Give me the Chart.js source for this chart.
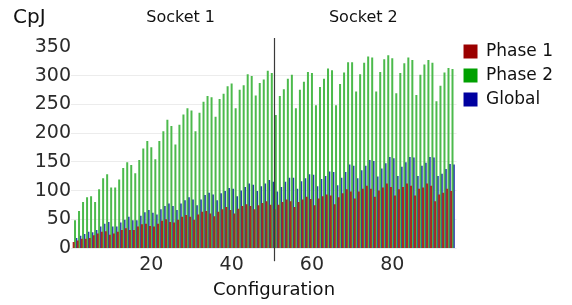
<!DOCTYPE html>
<html>
<head>
<meta charset="utf-8">
<script src="https://cdn.jsdelivr.net/npm/chart.js@4/dist/chart.umd.min.js"></script>
<style>
  html, body { margin: 0; padding: 0; background: #fff; }
</style>
</head>
<body>
<canvas id="chart" width="572" height="305"></canvas>
<script>
// configuration numbers 1..95 (x positions of the bar groups)
const configs = []
for (let c = 1; c <= 95; c++) configs.push(c)

const phase1 = [
  10, 13, 16, 16, 17, 22, 25, 28, 29, 23, 25, 28, 31, 34, 31, 31,
  37, 41, 42, 38, 37, 42, 47, 50, 45, 44, 49, 54, 57, 54, 49, 58,
  63, 64, 60, 55, 63, 67, 71, 66, 60, 68, 73, 76, 73, 67, 74, 78,
  81, 75, 67, 75, 80, 84, 81, 71, 80, 84, 89, 85, 74, 86, 90, 93,
  91, 76, 88, 95, 102, 98, 86, 98, 103, 108, 103, 89, 100, 105, 112, 106,
  91, 102, 106, 112, 108, 91, 103, 105, 112, 108, 81, 93, 96, 103, 99
]

const phase2 = [
  48, 64, 80, 88, 90, 80, 102, 121, 128, 105, 105, 119, 139, 149, 144, 130,
  153, 173, 186, 175, 154, 186, 203, 223, 212, 180, 214, 232, 243, 239, 203, 235,
  254, 264, 262, 228, 259, 268, 281, 286, 243, 275, 283, 302, 299, 265, 287, 293,
  308, 304, 231, 264, 276, 294, 301, 243, 275, 289, 306, 304, 248, 280, 294, 312,
  309, 248, 285, 305, 323, 323, 272, 302, 322, 333, 331, 272, 306, 328, 335, 330,
  269, 304, 321, 331, 327, 266, 301, 319, 327, 322, 255, 282, 305, 313, 311
]

const global = [
  17, 21, 24, 28, 27, 31, 37, 42, 45, 37, 37, 44, 49, 54, 48, 48,
  56, 62, 66, 61, 58, 67, 73, 77, 73, 66, 77, 83, 88, 84, 74, 84,
  92, 96, 93, 83, 95, 99, 104, 103, 90, 100, 106, 112, 110, 99, 107, 112,
  118, 115, 98, 106, 115, 122, 122, 103, 116, 121, 128, 127, 107, 120, 125, 133,
  132, 109, 122, 132, 145, 143, 121, 135, 143, 153, 151, 124, 138, 147, 158, 156,
  125, 141, 149, 158, 157, 125, 143, 148, 158, 157, 125, 129, 137, 146, 145
]

const seriesNames = ["Phase 1", "Phase 2", "Global"]
const xTicks = [20, 40, 60, 80]
const yTicks = [0, 50, 100, 150, 200, 250, 300, 350]
const socketNames = ["Socket 1", "Socket 2"]
const socketSplit = 50.5

const FONT = '"DejaVu Sans", sans-serif'

// divider line, socket names, axis captions
const extras = {
  id: 'extras',
  afterDatasetsDraw(chart) {
    const { ctx, chartArea } = chart
    const x = chart.scales.x
    ctx.save()
    const lx = Math.round(x.getPixelForValue(socketSplit)) + 0.5
    ctx.strokeStyle = '#3a3a3a'
    ctx.lineWidth = 1.2
    ctx.beginPath()
    ctx.moveTo(lx, chartArea.top - 9)
    ctx.lineTo(lx, chartArea.bottom + 13)
    ctx.stroke()
    ctx.restore()
  },
  afterDraw(chart) {
    const { ctx } = chart
    const x = chart.scales.x
    ctx.save()
    ctx.fillStyle = '#111'
    ctx.textBaseline = 'middle'
    ctx.textAlign = 'center'
    ctx.font = '16px ' + FONT
    const centers = [27.3, 72.8]
    socketNames.forEach((s, i) => ctx.fillText(s, x.getPixelForValue(centers[i]), 18))
    ctx.font = '18px ' + FONT
    ctx.fillText('Configuration', 274, 290)
    ctx.textAlign = 'left'
    ctx.font = '20px ' + FONT
    ctx.fillText('CpJ', 13, 18)
    ctx.restore()
  }
}

// thin bars look lighter in the original, the legend keeps the full colours
const barColors = ['#a82a22', '#4cba4c', '#2b36b0']
const legendColors = ['#9b0000', '#00a000', '#0000a0']
const ctx = document.getElementById('chart')

new Chart(ctx, {
  type: 'bar',
  data: {
    labels: configs,
    datasets: [phase1, phase2, global].map((d, i) => ({
      label: seriesNames[i],
      data: d,
      backgroundColor: barColors[i],
      borderWidth: 0,
      categoryPercentage: 1.0,
      barPercentage: 1.0
    }))
  },
  options: {
    responsive: false,
    animation: false,
    layout: {
      padding: { top: 36, right: 9, bottom: 24, left: 0 }
    },
    scales: {
      x: {
        type: 'linear',
        min: 0,
        max: 96,
        offset: false,
        grid: { display: false, drawTicks: false },
        border: { display: false },
        afterBuildTicks: s => { s.ticks = xTicks.map(v => ({ value: v })) },
        ticks: {
          autoSkip: false,
          maxRotation: 0,
          padding: 5,
          color: '#2b2b2b',
          font: { family: FONT, size: 19 }
        }
      },
      y: {
        min: 0,
        max: 350,
        afterBuildTicks: s => { s.ticks = yTicks.map(v => ({ value: v })) },
        afterFit: s => { s.width = 71 },
        grid: {
          drawTicks: false,
          color: c => (c.tick && c.tick.value === 350) ? 'rgba(0,0,0,0)' : '#ececec'
        },
        border: { display: false },
        ticks: {
          padding: 0,
          color: '#2b2b2b',
          font: { family: FONT, size: 19 }
        }
      }
    },
    plugins: {
      title: {
        display: true,
        text: '',
        font: { size: 11, lineHeight: 1 },
        padding: 0
      },
      legend: {
        position: 'right',
        align: 'start',
        labels: {
          boxWidth: 14,
          boxHeight: 14,
          padding: 7,
          color: '#111',
          font: { family: FONT, size: 17 },
          generateLabels: chart =>
            Chart.defaults.plugins.legend.labels.generateLabels(chart).map((l, i) =>
              Object.assign(l, { fillStyle: legendColors[i], strokeStyle: legendColors[i], lineWidth: 0 }))
        }
      },
      tooltip: { enabled: false }
    }
  },
  plugins: [extras]
})
</script>
</body>
</html>
